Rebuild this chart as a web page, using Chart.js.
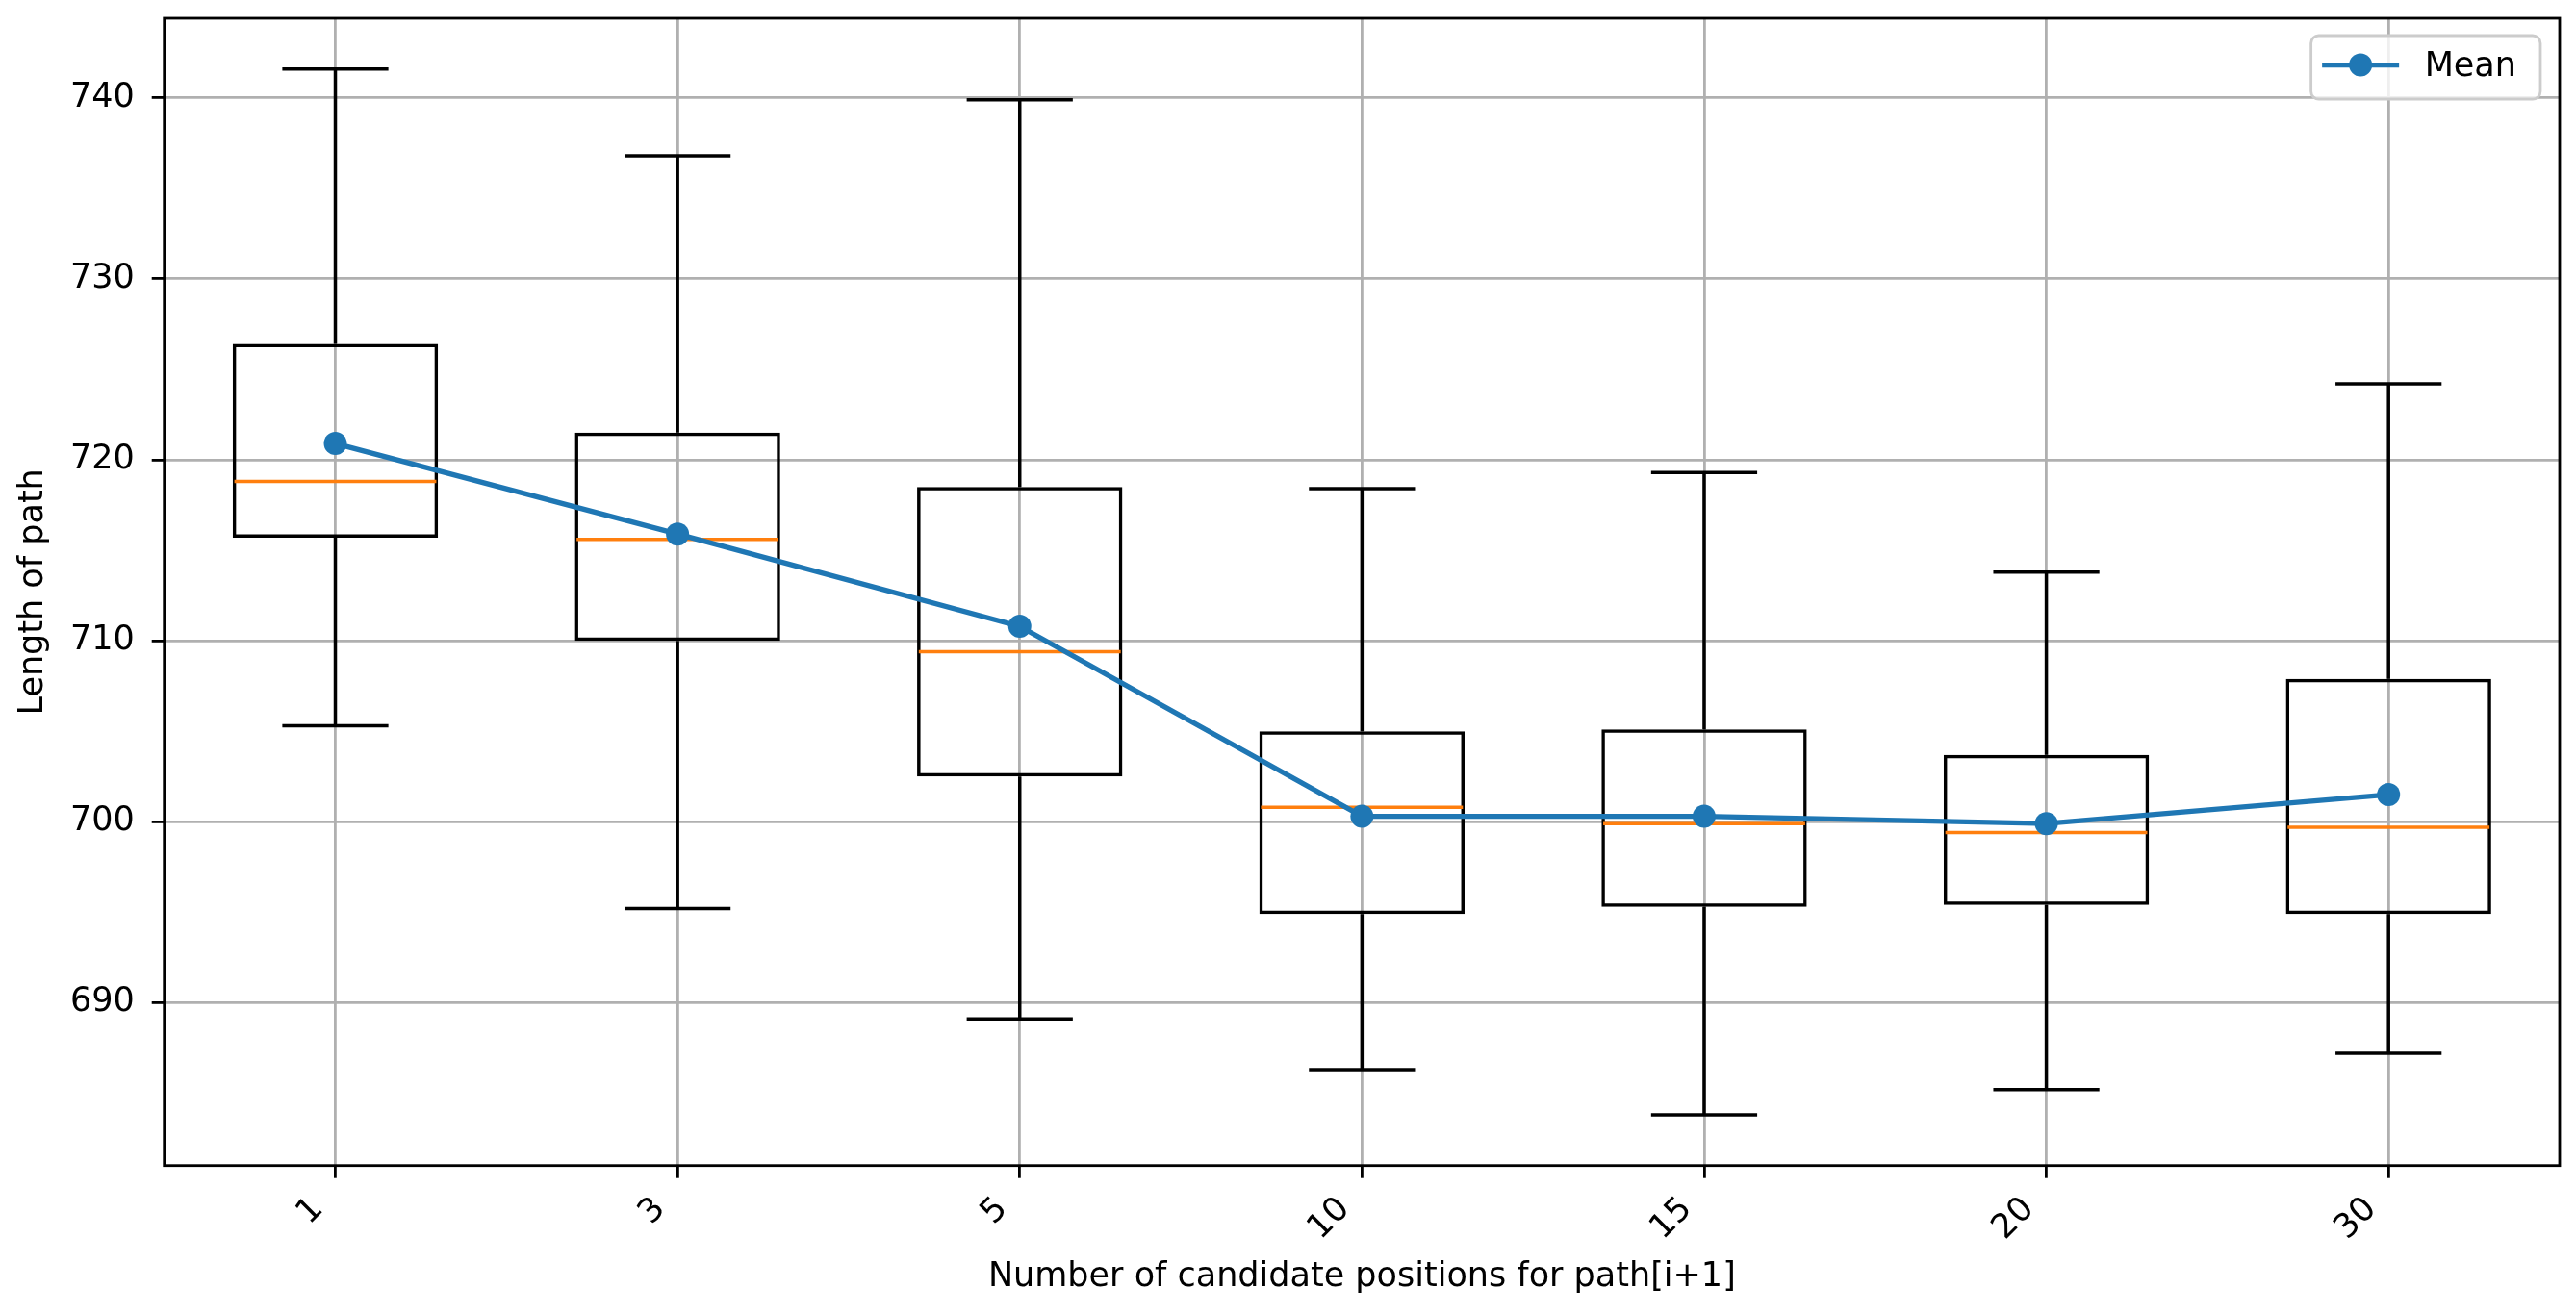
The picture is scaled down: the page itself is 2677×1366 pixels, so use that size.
<!DOCTYPE html>
<html>
<head>
<meta charset="utf-8">
<script src="https://cdn.jsdelivr.net/npm/chart.js@4/dist/chart.umd.min.js"></script>
<style>
  html, body { margin: 0; padding: 0; background: #fff; }
  #wrap { width: 2677px; height: 1366px; position: relative; }
</style>
</head>
<body>
<div id="wrap"><canvas id="c"></canvas></div>
<script>
// ---- data ----
const categories  = ['1', '3', '5', '10', '15', '20', '30'];
const whiskerHigh = [741.6, 736.8, 739.9, 718.4, 719.3, 713.8, 724.2];
const q3Values    = [726.4, 721.5, 718.5, 705.0, 705.1, 703.7, 707.9];
const medians     = [718.8, 715.6, 709.4, 700.8, 699.9, 699.4, 699.7];
const q1Values    = [715.7, 710.0, 702.5, 694.9, 695.3, 695.4, 694.9];
const whiskerLow  = [705.3, 695.2, 689.1, 686.3, 683.8, 685.2, 687.2];
const means       = [720.9, 715.9, 710.8, 700.3, 700.3, 699.9, 701.5];
const yTickStep = 10;
const yMin = 681.0, yMax = 744.4;

const FONT = 'DejaVu Sans';
const BLUE = '#1f77b4', ORANGE = '#ff7f0e';

const boxParts = {
  id: 'boxParts',
  afterDatasetDraw(chart, args) {
    if (args.index !== 0) return;
    const {ctx, scales: {x, y}} = chart;
    const step = x.getPixelForValue(1) - x.getPixelForValue(0);
    const capHalf = step * 0.155;
    const boxHalf = step * 0.3 - 1.75;
    const seg = (x1, y1, x2, y2) => { ctx.beginPath(); ctx.moveTo(x1, y1); ctx.lineTo(x2, y2); ctx.stroke(); };
    ctx.save();
    ctx.lineCap = 'butt';
    for (let i = 0; i < categories.length; i++) {
      const cx = x.getPixelForValue(i);
      ctx.strokeStyle = '#000';
      ctx.lineWidth = 3.5;
      seg(cx, y.getPixelForValue(q3Values[i]), cx, y.getPixelForValue(whiskerHigh[i]));
      seg(cx, y.getPixelForValue(q1Values[i]), cx, y.getPixelForValue(whiskerLow[i]));
      seg(cx - capHalf, y.getPixelForValue(whiskerHigh[i]), cx + capHalf, y.getPixelForValue(whiskerHigh[i]));
      seg(cx - capHalf, y.getPixelForValue(whiskerLow[i]), cx + capHalf, y.getPixelForValue(whiskerLow[i]));
      ctx.strokeStyle = ORANGE;
      seg(cx - boxHalf, y.getPixelForValue(medians[i]), cx + boxHalf, y.getPixelForValue(medians[i]));
    }
    ctx.restore();
  },
  afterDatasetsDraw(chart) {
    const {ctx, chartArea: a} = chart;
    ctx.save();
    ctx.strokeStyle = '#000';
    ctx.lineWidth = 2.8;
    ctx.strokeRect(a.left, a.top, a.right - a.left, a.bottom - a.top);
    ctx.restore();
  },
  afterDraw(chart) {
    // legend box (upper right, inside the axes)
    const {ctx, chartArea: a} = chart;
    const ds = chart.data.datasets[1];
    ctx.save();
    ctx.font = '35px "' + FONT + '"';
    const tw = ctx.measureText(ds.label).width;
    const w = 118 + tw + 25, h = 66;
    const left = a.right - 20 - w, top = a.top + 18;
    const r = 8;
    ctx.beginPath();
    ctx.moveTo(left + r, top);
    ctx.arcTo(left + w, top, left + w, top + h, r);
    ctx.arcTo(left + w, top + h, left, top + h, r);
    ctx.arcTo(left, top + h, left, top, r);
    ctx.arcTo(left, top, left + w, top, r);
    ctx.closePath();
    ctx.fillStyle = 'rgba(255,255,255,0.8)';
    ctx.fill();
    ctx.strokeStyle = '#cccccc';
    ctx.lineWidth = 2.8;
    ctx.stroke();
    const cy = top + h / 2;
    const hy = cy - 2.5;
    ctx.strokeStyle = ds.borderColor;
    ctx.lineWidth = ds.borderWidth;
    ctx.beginPath(); ctx.moveTo(left + 11.5, hy); ctx.lineTo(left + 91.5, hy); ctx.stroke();
    ctx.fillStyle = ds.pointBackgroundColor;
    ctx.beginPath(); ctx.arc(left + 51.5, hy, ds.pointRadius, 0, Math.PI * 2); ctx.fill();
    ctx.fillStyle = '#000';
    ctx.textBaseline = 'middle';
    ctx.textAlign = 'left';
    ctx.fillText(ds.label, left + 118, cy - 0.5);
    ctx.restore();
  }
};

new Chart(document.getElementById('c'), {
  type: 'bar',
  data: {
    labels: categories,
    datasets: [
      {
        type: 'bar',
        label: 'Box',
        data: q1Values.map((q, i) => [q, q3Values[i]]),
        backgroundColor: 'rgba(0,0,0,0)',
        borderColor: '#000',
        borderWidth: 3.5,
        borderSkipped: false,
        barPercentage: 0.6,
        categoryPercentage: 1.0,
        order: 2
      },
      {
        type: 'line',
        label: 'Mean',
        data: means,
        borderColor: BLUE,
        backgroundColor: BLUE,
        pointBackgroundColor: BLUE,
        pointBorderWidth: 0,
        pointRadius: 12,
        borderWidth: 5.25,
        tension: 0,
        fill: false,
        clip: false,
        order: 1
      }
    ]
  },
  options: {
    responsive: true,
    maintainAspectRatio: false,
    devicePixelRatio: 1,
    animation: false,
    layout: { padding: { top: 19, right: 17, left: 0, bottom: 0 } },
    plugins: { legend: { display: false }, tooltip: { enabled: false } },
    scales: {
      x: {
        offset: true,
        grid: { offset: false, color: '#b0b0b0', lineWidth: 2.8, tickColor: '#000', tickWidth: 2.8, tickLength: 13, drawTicks: true },
        border: { display: false },
        ticks: { color: '#000', font: { family: FONT, size: 35 }, minRotation: 45, maxRotation: 45, padding: 12, labelOffset: -18 },
        title: { display: true, text: 'Number of candidate positions for path[i+1]', color: '#000', font: { family: FONT, size: 35 }, padding: { top: 0, bottom: 17 } },
        afterFit(scale) { scale.height = 154.3; scale.paddingLeft = 0; scale.paddingRight = 0; }
      },
      y: {
        min: yMin,
        max: yMax,
        grid: { color: '#b0b0b0', lineWidth: 2.8, tickColor: '#000', tickWidth: 2.8, tickLength: 13, drawTicks: true },
        border: { display: false },
        ticks: { stepSize: yTickStep, includeBounds: false, color: '#000', font: { family: FONT, size: 35 }, padding: 18 },
        title: { display: true, text: 'Length of path', color: '#000', font: { family: FONT, size: 35 }, padding: { top: 14, bottom: 0 } },
        afterFit(scale) { scale.width = 170.7; scale.paddingTop = 0; scale.paddingBottom = 0; }
      }
    }
  },
  plugins: [boxParts]
});
</script>
</body>
</html>
